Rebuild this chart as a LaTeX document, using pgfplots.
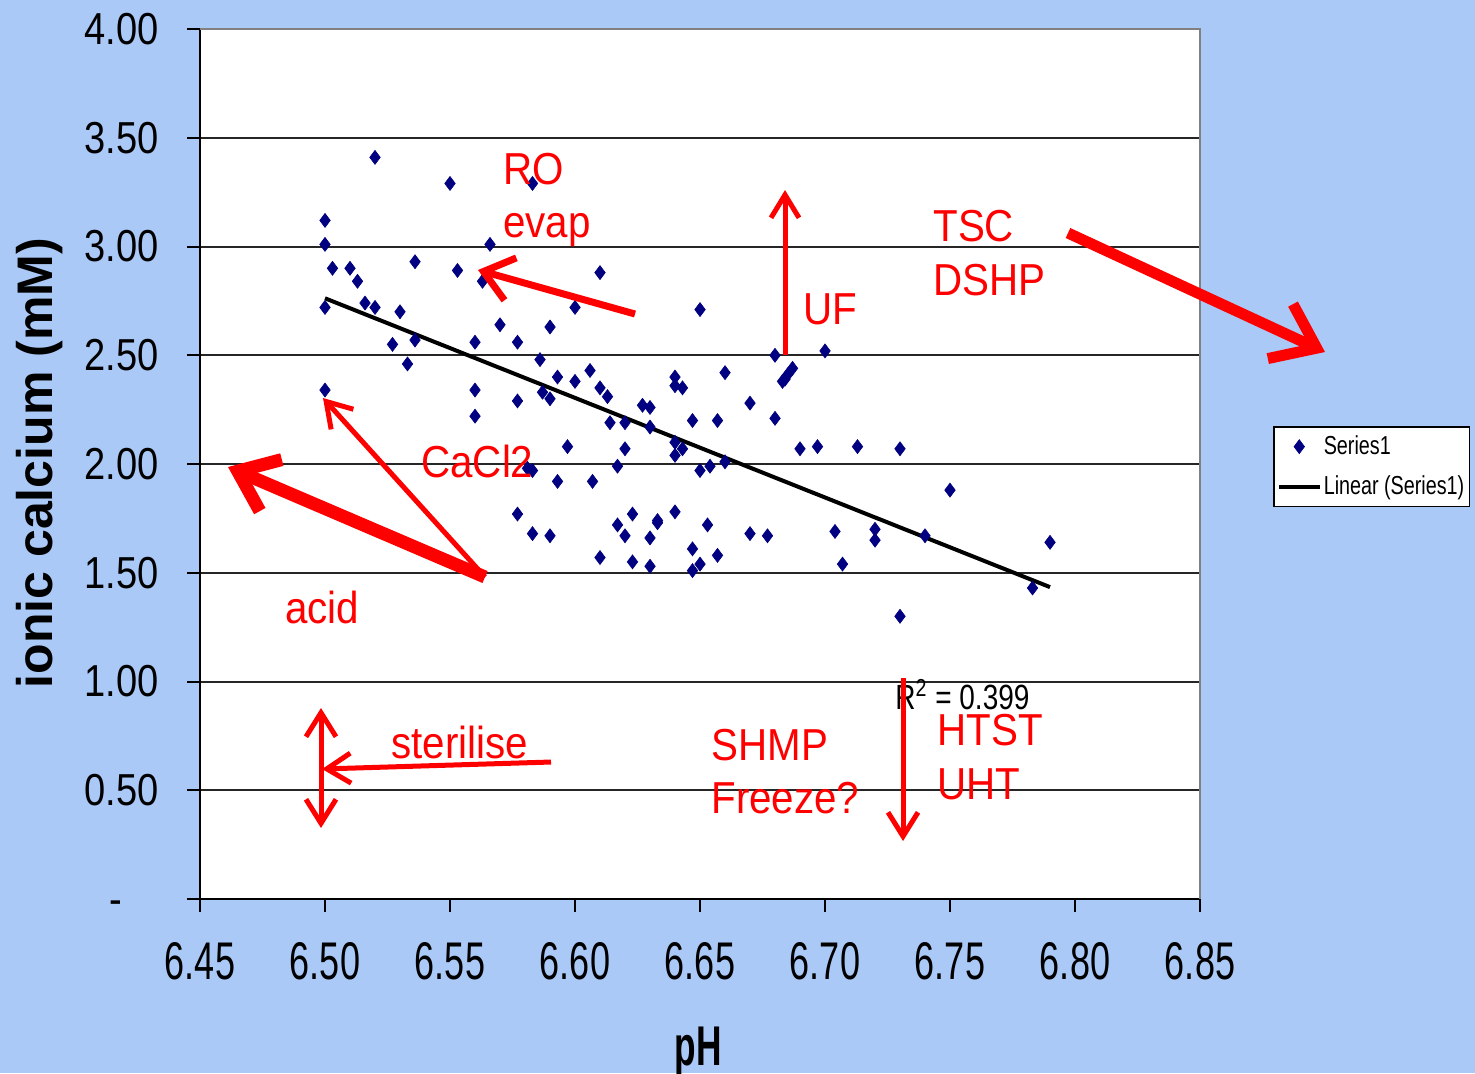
\documentclass[border=0pt]{standalone}
\usepackage{fontspec}
\setmainfont{Liberation Sans}
\usepackage{pgfplots}
\pgfplotsset{compat=1.18}
\usetikzlibrary{arrows.meta}
\newfontfamily\ytickfont[FakeStretch=0.85]{Liberation Sans}
\newfontfamily\xtickfont[FakeStretch=0.68]{Liberation Sans}
\newfontfamily\annfont[FakeStretch=0.9]{Liberation Sans}
\newfontfamily\rfont[FakeStretch=0.8]{Liberation Sans}
\newfontfamily\legfont[FakeStretch=0.76]{Liberation Sans}
\newfontfamily\phfont[FakeStretch=0.63]{Liberation Sans}
\definecolor{bgblue}{RGB}{170,201,247}
\definecolor{navy}{RGB}{0,0,128}
\definecolor{bordergray}{RGB}{128,128,128}
\newcommand\ann{\annfont\fontsize{22.4pt}{24pt}\selectfont}
\pgfplotsset{
  mylegmark/.style={legend image code/.code={\draw[mark repeat=2,mark phase=2,##1] plot coordinates {(0pt,0pt) (10.25pt,0pt) (20.5pt,0pt)};}},
  mylegline/.style={legend image code/.code={\draw[##1] (0pt,0pt) -- (20.5pt,0pt);}},
}
\pgfplotstableread{
ph ca
6.500 3.12
6.500 3.01
6.500 2.72
6.500 2.34
6.503 2.90
6.510 2.90
6.513 2.84
6.516 2.74
6.520 2.72
6.520 3.41
6.530 2.70
6.527 2.55
6.533 2.46
6.536 2.93
6.536 2.57
6.550 3.29
6.553 2.89
6.563 2.84
6.566 3.01
6.583 3.29
6.570 2.64
6.560 2.56
6.560 2.34
6.560 2.22
6.577 2.56
6.590 2.63
6.586 2.48
6.577 2.29
6.587 2.33
6.590 2.30
6.593 2.40
6.577 1.77
6.583 1.68
6.590 1.67
6.593 1.92
6.597 2.08
6.583 1.97
6.581 1.98
6.600 2.38
6.600 2.72
6.610 2.88
6.650 2.71
6.680 2.50
6.606 2.43
6.610 2.35
6.613 2.31
6.614 2.19
6.620 2.19
6.627 2.27
6.630 2.26
6.630 2.17
6.640 2.40
6.640 2.36
6.643 2.35
6.647 2.20
6.657 2.20
6.660 2.42
6.670 2.28
6.680 2.21
6.684 2.39
6.620 2.07
6.640 2.10
6.640 2.04
6.643 2.07
6.617 1.99
6.607 1.92
6.650 1.97
6.654 1.99
6.660 2.01
6.623 1.77
6.617 1.72
6.620 1.67
6.633 1.74
6.633 1.73
6.640 1.78
6.653 1.72
6.630 1.66
6.670 1.68
6.677 1.67
6.647 1.61
6.610 1.57
6.623 1.55
6.630 1.53
6.647 1.51
6.650 1.54
6.657 1.58
6.700 2.52
6.683 2.38
6.687 2.44
6.685 2.41
6.690 2.07
6.697 2.08
6.713 2.08
6.730 2.07
6.750 1.88
6.704 1.69
6.720 1.70
6.720 1.65
6.740 1.67
6.707 1.54
6.730 1.30
6.783 1.43
6.790 1.64
}\datatable
\begin{document}
\begin{tikzpicture}
\useasboundingbox (0,0) rectangle (737.5pt,-536.5pt);
\clip (0,0) rectangle (737.5pt,-536.5pt);
\fill[bgblue] (0,0) rectangle (737.5pt,-536.5pt);
\begin{axis}[
  at={(100pt,-449.5pt)}, anchor=south west,
  scale only axis, width=500pt, height=435pt,
  xmin=6.45, xmax=6.85, ymin=0, ymax=4,
  axis background/.style={fill=white},
  axis x line=bottom, axis y line=left,
  axis line style={-, black, line width=1pt},
  tick align=outside,
  major tick length=6.25pt,
  tick style={black, line width=1pt},
  xtick={6.45,6.50,6.55,6.60,6.65,6.70,6.75,6.80,6.85},
  xticklabels={6.45,6.50,6.55,6.60,6.65,6.70,6.75,6.80,6.85},
  ytick={0,0.5,1,1.5,2,2.5,3,3.5,4},
  yticklabels={{\makebox[24.5pt][l]{-\vphantom{0}}},0.50,1.00,1.50,2.00,2.50,3.00,3.50,4.00},
  xticklabel style={font=\xtickfont\fontsize{26.5pt}{28pt}\selectfont, yshift=-12pt},
  yticklabel style={font=\ytickfont\fontsize{22.4pt}{24pt}\selectfont, xshift=-11pt},
  ymajorgrids,
  major grid style={black!85, line width=1pt},
  xlabel={\phfont\bfseries pH},
  xlabel style={at={(axis description cs:0.498,0)}, anchor=base, yshift=-83pt, font=\fontsize{28pt}{30pt}\selectfont},
  ylabel={\bfseries ionic calcium (mM)},
  ylabel style={at={(axis description cs:-0.148,0.501)}, anchor=base, font=\fontsize{25pt}{27pt}\selectfont},
  legend style={at={(1.073,0.5437)}, anchor=north west, draw=black, line width=0.75pt, fill=white,
    font=\legfont\fontsize{13pt}{15pt}\selectfont, legend cell align=left,
    inner xsep=1.5pt, inner ysep=3.5pt, row sep=7pt, nodes={inner xsep=1pt, inner ysep=1pt}},
  extra description/.code={\draw[bordergray, line width=1pt] (rel axis cs:0,1) -- (rel axis cs:1,1) -- (rel axis cs:1,0);},
]
\addplot[only marks, mark=diamond*, mark size=3.5pt, draw=navy, fill=navy, line width=0.3pt, mylegmark]
  table[x=ph, y=ca] {\datatable};
\addlegendentry{Series1}
\addplot[black, line width=2pt, no marks, mylegline]
  coordinates {(6.50,2.762) (6.79,1.434)};
\addlegendentry{Linear (Series1)\hspace{3pt}}
\end{axis}
\begin{scope}[x=0.5pt, y=-0.5pt]
  \node[anchor=base west, inner sep=0, font=\rfont\fontsize{17.5pt}{19pt}\selectfont] at (895,709) {R\textsuperscript{2} = 0.399};
  \begin{scope}[red, every node/.style={anchor=base west, inner sep=0, font=\ann, text=red}]
    \node at (503,184) {RO};
    \node at (503,237) {evap};
    \node at (803,324) {UF};
    \node at (933,241) {TSC};
    \node at (933,295) {DSHP};
    \node at (421,477) {CaCl2};
    \node at (285,623) {acid};
    \node at (391,758) {sterilise};
    \node at (711,760) {SHMP};
    \node at (711,813) {Freeze?};
    \node at (937,745) {HTST};
    \node at (937,799) {UHT};
    \draw[line width=3.5pt, -{Straight Barb[length=14pt,width=22pt]}] (635,314) -- (478,270);
    \draw[line width=2.5pt, -{Straight Barb[length=11.5pt,width=14pt]}] (785,355) -- (785,190);
    \draw[line width=5.5pt, -{Straight Barb[length=20pt,width=30pt]}] (1068,233) -- (1325,352);
    \draw[line width=6.5pt, -{Straight Barb[length=18pt,width=28pt]}] (485,577) -- (228,467);
    \draw[line width=2.5pt, -{Straight Barb[length=12pt,width=15pt]}] (485,577) -- (323,398);
    \draw[line width=2.5pt, -{Straight Barb[length=12pt,width=15pt]}] (551,762) -- (322,769);
    \draw[line width=2.5pt, {Straight Barb[length=12pt,width=15pt]}-{Straight Barb[length=12pt,width=15pt]}] (321,708) -- (321,828);
    \draw[line width=2.5pt, -{Straight Barb[length=12pt,width=15pt]}] (903,678) -- (903,841);
  \end{scope}
\end{scope}
\end{tikzpicture}
\end{document}
